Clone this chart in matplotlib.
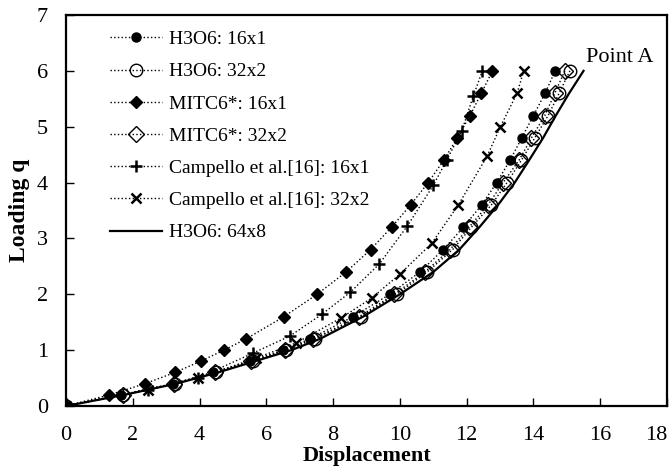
import matplotlib
matplotlib.use("Agg")
import matplotlib.pyplot as plt

# ---- data ----
load_std = [0, 0.2, 0.4, 0.6, 0.8, 1.0, 1.2, 1.6, 2.0, 2.4, 2.8, 3.2, 3.6, 4.0, 4.4, 4.8, 5.2, 5.6, 6.0]

h3o6_16x1_x = [0, 1.65, 3.2, 4.4, 5.5, 6.5, 7.3, 8.6, 9.7, 10.6, 11.3, 11.9, 12.45, 12.9, 13.3, 13.65, 14.0, 14.35, 14.65]
h3o6_32x2_x = [0, 1.72, 3.26, 4.5, 5.6, 6.6, 7.45, 8.83, 9.9, 10.82, 11.58, 12.14, 12.74, 13.21, 13.64, 14.04, 14.44, 14.77, 15.09]
mitc_16x1_x = [0, 1.3, 2.37, 3.26, 4.03, 4.73, 5.39, 6.53, 7.52, 8.39, 9.12, 9.75, 10.32, 10.85, 11.31, 11.72, 12.1, 12.44, 12.77]
mitc_32x2_x = [0, 1.7, 3.23, 4.46, 5.55, 6.55, 7.4, 8.78, 9.83, 10.75, 11.5, 12.07, 12.64, 13.09, 13.57, 13.94, 14.34, 14.64, 14.94]

camp_16x1_x = [0, 2.46, 3.96, 5.61, 6.7, 7.66, 8.52, 9.38, 10.22, 11.0, 11.4, 11.85, 12.2, 12.47]
camp_16x1_y = [0, 0.29, 0.5, 0.95, 1.25, 1.64, 2.04, 2.54, 3.22, 3.95, 4.4, 4.92, 5.55, 6.0]

camp_32x2_x = [0, 2.46, 3.96, 5.7, 6.9, 8.25, 9.15, 10.0, 10.95, 11.75, 12.61, 13.01, 13.51, 13.71]
camp_32x2_y = [0, 0.29, 0.5, 0.86, 1.13, 1.58, 1.93, 2.36, 2.91, 3.6, 4.47, 5.0, 5.6, 6.0]

ref_64x8_x = [0, 1.75, 3.3, 4.55, 5.65, 6.75, 7.6, 8.9, 10.0, 11.0, 11.78, 12.38, 12.94, 13.44, 13.87, 14.29, 14.67, 15.07, 15.5]

xticks = list(range(0, 19, 2))
yticks = list(range(0, 8))

# ---- style ----
plt.rcParams['font.family'] = ['Liberation Serif', 'DejaVu Serif']
plt.rcParams['font.size'] = 14

fig = plt.figure(figsize=(6.69, 4.66), dpi=100)
ax = fig.add_axes([0.0987, 0.1288, 0.8983, 0.839])

dot = dict(color='black', linestyle=':', linewidth=1.0)
ax.plot(h3o6_16x1_x, load_std, marker='o', markersize=6.5, markerfacecolor='black',
        markeredgecolor='black', label='H3O6: 16x1', **dot)
ax.plot(h3o6_32x2_x, load_std, marker='o', markersize=9, markerfacecolor='none',
        markeredgecolor='black', markeredgewidth=1.0, label='H3O6: 32x2', **dot)
ax.plot(mitc_16x1_x, load_std, marker='D', markersize=6.5, markerfacecolor='black',
        markeredgecolor='black', label='MITC6*: 16x1', **dot)
ax.plot(mitc_32x2_x, load_std, marker='D', markersize=8, markerfacecolor='none',
        markeredgecolor='black', markeredgewidth=1.0, label='MITC6*: 32x2', **dot)
ax.plot(camp_16x1_x, camp_16x1_y, marker='+', markersize=8, markeredgewidth=1.8,
        markeredgecolor='black', label='Campello et al.[16]: 16x1', **dot)
ax.plot(camp_32x2_x, camp_32x2_y, marker='x', markersize=7, markeredgewidth=1.8,
        markeredgecolor='black', label='Campello et al.[16]: 32x2', **dot)
ax.plot(ref_64x8_x, load_std, color='black', linestyle='-', linewidth=1.6,
        label='H3O6: 64x8')

ax.set_xlim(0, 18)
ax.set_ylim(0, 7)
ax.set_xticks(xticks)
ax.set_yticks(yticks)
ax.tick_params(direction='in', length=6, width=1.0, labelsize=16)
ax.tick_params(axis='x', pad=14.5)
ax.tick_params(axis='y', pad=13)
for s in ax.spines.values():
    s.set_linewidth(1.6)
ax.get_xticklabels()[-1].set_horizontalalignment('right')

ax.set_xlabel('Displacement', fontsize=16, fontweight='bold', labelpad=0.5)
ax.set_ylabel('Loading q', fontsize=17, fontweight='bold', labelpad=5)

ax.text(15.57, 6.24, 'Point A', fontsize=16, ha='left', va='center')

leg = ax.legend(loc='upper left', bbox_to_anchor=(0.073, 0.96), frameon=False,
                fontsize=14, handlelength=2.7, handletextpad=0.35, borderpad=0,
                labelspacing=0.75, borderaxespad=0)

fig.savefig('out.png', dpi=100)
